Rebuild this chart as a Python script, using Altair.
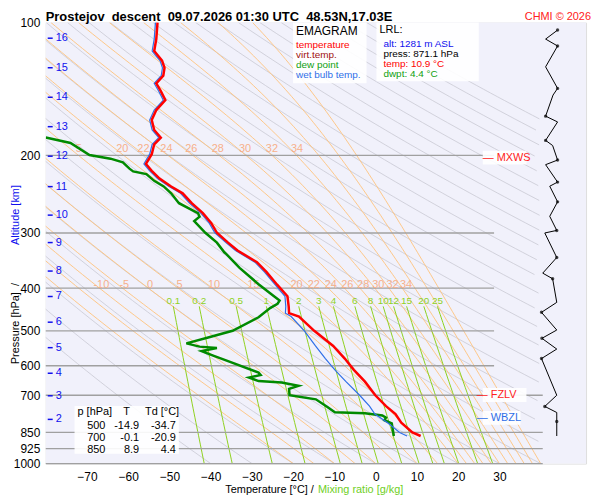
import altair as alt
import pandas as pd
import numpy as np

# ---------------- data ----------------
t_p = [100,109,116,122,126.6,131.9,137.4,143.1,149.9,157.9,166.3,175.2,182.3,188.8,198.8,209.2,216.9,225.9,
       235.3,243.9,256.8,270.4,284.7,299.7,315.5,328.8,349.3,367.6,393,417.5,440,456,464,500,541,578,613,652,700,741,772,808,850,866]
t_T = [-52.9,-53.2,-53.7,-51.8,-51.2,-51.5,-53.2,-52.1,-51.0,-53.2,-54.3,-53.7,-52.1,-53.7,-54.3,-55.7,-54.3,-52.4,
       -49.6,-46.8,-44.6,-41.9,-39.9,-38.5,-35.8,-33.5,-28.8,-26.5,-23.9,-21.4,-21.1,-21.0,-18.6,-14.9,-10.3,-7.5,-5.3,-2.6,-0.1,2.5,4.8,6.2,8.9,10.9]
wb_T = [-53.4,-53.7,-54.2,-52.3,-51.7,-52.0,-53.7,-52.6,-51.5,-53.7,-54.8,-54.2,-52.6,-54.2,-54.8,-56.2,-54.8,-52.9,
        -50.1,-47.3,-45.1,-42.4,-40.4,-39.0,-36.3,-34.0,-29.3,-27.0,-24.4,-22.0,-21.8,-21.9,-20.5,-17.3,-14.6,-12.2,-9.9,-7.2,-3.9,-1.5,-0.2,2.9,5.8,7.6]
td_p = [182.3,187.5,199.6,203.5,207.5,214.4,217.5,220.6,228.5,235.3,243.9,256.8,270.4,275.5,282,299.7,315.5,331.8,
        335,360,392,411,427,434,444,466,500,517,534,543,547,556,569,586,622,630,638,650,655,666,677,700,715,743,765,
        769,778,787,797,811,866]
td_T = [-80,-74,-69.4,-64.3,-61.3,-59.7,-58.8,-55.6,-53.7,-51.4,-49.6,-47.7,-43.1,-42.7,-44,-41.3,-38.5,-36.7,
        -36.2,-33,-28.4,-25.6,-23.3,-23.8,-25.6,-28.4,-34.7,-40.4,-45.9,-42.7,-38.5,-42.2,-39.4,-35.8,-28.4,-27.9,-30.7,
        -28.4,-22.8,-18.7,-21,-20.9,-14.5,-11.8,-9.9,-2.6,1.6,2.5,2.1,3.9,4.4]
km_lab = ["16","15","14","13","12","11","10","9","8","7","6","5","4","3","2"]
km_p = [108.5,126.6,147.7,172.2,200.9,235.5,273.3,315.4,366,418,478,546,624,702,794]
wind_p = [104,109,113,126,141,146,163,168,185,190,205,210,230,235,255,275,296,300,341,370,381,431,454,498,520,550,578,700,742,766,803,866]
wind_x = [44.1,41.2,44.1,41.2,44.1,43.0,41.2,44.1,41.2,42.9,44.1,41.2,44.1,42.2,44.1,42.2,43.9,41.0,43.9,40.5,42.9,43.9,40.2,43.9,40.3,43.9,40.2,43.9,41.0,43.9,43.9,43.9]
mix_w = [0.1,0.2,0.5,1,2,3,4,6,8,10,12,15,20,25]
mix_lab = ["0.1","0.2","0.5","1","2","3","4","6","8","10","12","15","20","25"]
thw_400 = [-10,-5,0,5,10,15,20,22,24,26,28,30,32,34]
thw_200 = [5,20,22,24,26,28,30,32,34]
table_rows = [["500","-14.9","-34.7"],["700","-0.1","-20.9"],["850","8.9","4.4"]]

# ---------------- thermodynamic reference curves ----------------
def es(T):
    return 6.112*np.exp(17.67*T/(T+243.5))
def td_from_w(w, p):
    e = w*p/(622.0+w)
    l = np.log(e/6.112)
    return 243.5*l/(17.67-l)
pgrid = np.exp(np.linspace(np.log(1000), np.log(100), 120))

rows = []
for th in range(-40, 260, 10):
    thK = th+273.15
    for i, p in enumerate(pgrid):
        T = thK*(p/1000)**0.2857-273.15
        if -82 <= T <= 40:
            rows.append(dict(k=th, i=i, p=p, T=T))
dry = pd.DataFrame(rows)

def moist(thw):
    T = thw+273.15; out = []
    for i in range(len(pgrid)):
        p = pgrid[i]
        out.append((p, T-273.15))
        if i+1 < len(pgrid):
            dp = pgrid[i+1]-p
            for _ in range(4):
                h = dp/4
                rs = 0.622*es(T-273.15)/(p-es(T-273.15))
                dTdp = (287*T+2.5e6*rs)/(p*(1004+2.5e6**2*rs*0.622/(287*T*T)))
                T += dTdp*h; p += h
    return out
mrows = []; mcur = {}
for thw in list(range(-20, 21, 5))+list(range(22, 42, 2)):
    c = moist(thw); mcur[thw] = c
    for i, (p, T) in enumerate(c):
        if -82 <= T <= 40:
            mrows.append(dict(k=thw, i=i, p=p, T=T))
mst = pd.DataFrame(mrows)
def moist_at(thw, pp):
    c = mcur.get(thw) or moist(thw)
    ps = np.array([a for a, b in c]); ts = np.array([b for a, b in c])
    return float(np.interp(np.log(pp), np.log(ps[::-1]), ts[::-1]))

wrows = []
for w in mix_w:
    for i, p in enumerate(np.linspace(1000, 440, 30)):
        wrows.append(dict(k=w, i=i, p=p, T=td_from_w(w, p)))
mix = pd.DataFrame(wrows)
mixlab = pd.DataFrame(dict(t=mix_lab, p=[428]*len(mix_w), T=[td_from_w(w, 440) for w in mix_w]))
lab400 = pd.DataFrame(dict(t=[str(v) for v in thw_400], p=393, T=[moist_at(v, 393)+1.5 for v in thw_400]))
lab200 = pd.DataFrame(dict(t=[str(v) for v in thw_200], p=194, T=[max(moist_at(v, 194)+1.5, -72) for v in thw_200]))

X = alt.X("T:Q", scale=alt.Scale(domain=[-80, 51], nice=False, zero=False),
          axis=alt.Axis(values=list(range(-70, 31, 10)), grid=False, domain=False, ticks=False,
                        labelFontSize=12, labelColor="black", title=None, labelPadding=8))
Y = alt.Y("p:Q", scale=alt.Scale(type="log", domain=[100, 1000], reverse=True, nice=False),
          axis=alt.Axis(values=[100,200,300,400,500,600,700,850,925,1000], format="d", grid=False, domain=False,
                        ticks=False, labelFontSize=12, labelColor="black", title=None, labelPadding=6))

W, H = 544, 444
ox, oy = 46, 21
bg = alt.Chart(pd.DataFrame({"a": [0]})).mark_rect(color="#f1f1fb").encode(
    x=alt.value(0), x2=alt.value(W), y=alt.value(0), y2=alt.value(H))
iso = alt.Chart(pd.DataFrame({"T": list(range(-70, 41, 10))})).mark_rule(color="#d4d4dc", strokeWidth=1).encode(x=X)
iso0 = alt.Chart(pd.DataFrame({"T": [0]})).mark_rule(color="#909090", strokeWidth=1).encode(x="T:Q")
dryl = alt.Chart(dry).mark_line(color="#c9c9d3", strokeWidth=0.8, clip=True).encode(x="T:Q", y="p:Q", detail="k:N", order="i:Q")
mstl = alt.Chart(mst).mark_line(color="#ffc27a", strokeWidth=0.9, clip=True).encode(x="T:Q", y="p:Q", detail="k:N", order="i:Q")
mixl = alt.Chart(mix).mark_line(color="#8fd11f", strokeWidth=1, clip=True).encode(x="T:Q", y="p:Q", detail="k:N", order="i:Q")
isob = alt.Chart(pd.DataFrame(dict(p=[200,300,400,500,600,700,850,925,1000],
                                   T=[-80]*9, T2=[28.7,28.7,28.7,28.7,28.7,40.5,40.5,40.5,40.5]))
                 ).mark_rule(color="#a0a0a0", strokeWidth=1.3).encode(x="T:Q", x2="T2:Q", y="p:Q")
mixt = alt.Chart(mixlab).mark_text(color="#8fd11f", fontSize=10).encode(x="T:Q", y="p:Q", text="t:N")
l4 = alt.Chart(lab400).mark_text(color="#f7b08a", fontSize=11).encode(x="T:Q", y="p:Q", text="t:N")
l2 = alt.Chart(lab200).mark_text(color="#f7b08a", fontSize=11).encode(x="T:Q", y="p:Q", text="t:N")

dfT = pd.DataFrame(dict(p=t_p, T=t_T, i=range(len(t_p))))
dfD = pd.DataFrame(dict(p=td_p, T=td_T, i=range(len(td_p))))
dfW = pd.DataFrame(dict(p=t_p, T=wb_T, i=range(len(t_p))))
lT = alt.Chart(dfT).mark_line(color="#ff0000", strokeWidth=2.5).encode(x="T:Q", y="p:Q", order="i:Q")
lD = alt.Chart(dfD).mark_line(color="#008a00", strokeWidth=2.5, clip=True).encode(x="T:Q", y="p:Q", order="i:Q")
lW = alt.Chart(dfW).mark_line(color="#2f6fe8", strokeWidth=1.2).encode(x="T:Q", y="p:Q", order="i:Q")

dfWind = pd.DataFrame(dict(p=wind_p, T=wind_x, i=range(len(wind_p))))
wl = alt.Chart(dfWind).mark_line(color="black", strokeWidth=1).encode(x="T:Q", y="p:Q", order="i:Q")
wp = alt.Chart(dfWind.iloc[::2]).mark_point(color="black", filled=True, size=12).encode(x="T:Q", y="p:Q")

dfK = pd.DataFrame(dict(t=km_lab, p=km_p))
kt = alt.Chart(dfK).mark_rule(color="#1010ee", strokeWidth=1.5).encode(x=alt.value(2), x2=alt.value(7), y="p:Q")
kl = alt.Chart(dfK).mark_text(color="#1010ee", fontSize=11, align="left").encode(x=alt.value(10), y="p:Q", text="t:N")

def txt(s, x, y, color="black", size=11, align="left", weight="normal", angle=0):
    return alt.Chart(pd.DataFrame({"t": [s]})).mark_text(color=color, fontSize=size, align=align,
                fontWeight=weight, angle=angle, baseline="middle").encode(x=alt.value(x), y=alt.value(y), text="t:N")
def box(x1, y1, x2, y2):
    return alt.Chart(pd.DataFrame({"a": [0]})).mark_rect(color="white", opacity=0.9).encode(
        x=alt.value(x1), x2=alt.value(x2), y=alt.value(y1), y2=alt.value(y2))

S = "\u00a0\u00a0"
ann = [
    box(295-ox, 21-oy, 369-ox, 82-oy), box(379-ox, 21-oy, 482-ox, 80-oy), box(75-ox, 407-oy, 180-ox, 455-oy),
    box(486-ox, 150-oy, 530-ox, 164-oy), box(486-ox, 389-oy, 530-ox, 403-oy), box(486-ox, 412-oy, 524-ox, 426-oy),
    txt("EMAGRAM", 298-ox, 30-oy, size=12),
    txt("temperature", 298-ox, 44-oy, "#ff0000", 10), txt("virt.temp.", 298-ox, 54-oy, "#a01010", 10),
    txt("dew point", 298-ox, 64-oy, "#10a010", 10), txt("wet bulb temp.", 298-ox, 74-oy, "#2f6fe8", 10),
    txt("LRL:", 382-ox, 28-oy, size=11),
    txt("alt: 1281 m ASL", 386-ox, 43-oy, "#1010ee", 10), txt("press: 871.1 hPa", 386-ox, 53-oy, "black", 10),
    txt("temp: 10.9 °C", 386-ox, 63-oy, "#ff0000", 10), txt("dwpt: 4.4 °C", 386-ox, 73-oy, "#10a010", 10),
    txt("p [hPa]", 78-ox, 413-oy), txt("T", 124-ox, 413-oy), txt("Td [°C]", 146-ox, 413-oy),
    txt("— MXWS", 486-ox, 157-oy, "#ff2020", 11), txt("— FZLV", 480-ox, 396-oy, "#ff2020", 11),
    txt("— WBZL", 480-ox, 419-oy, "#2f6fe8", 11),
    txt("Prostejov" + S + "descent" + S + "09.07.2026 01:30 UTC" + S + "48.53N,17.03E", 46-ox, 15-oy, size=13, weight="bold"),
    txt("CHMI © 2026", 595-ox, 15-oy, "#ff2020", 11, align="right"),
    txt("Temperature [°C]  /", 316-ox, 492-oy, size=11, align="right"),
    txt("Mixing ratio [g/kg]", 320-ox, 492-oy, "#6fcf1f", 11),
    txt("Pressure [hPa]\u00a0\u00a0/", 16-ox, 365-oy, size=11, angle=270, align="left"),
    txt("Altitude [km]", 16-ox, 245-oy, "#1010ee", 11, angle=270, align="left"),
]
for j, r in enumerate(table_rows):
    y = 427 + j*12 - oy
    ann += [txt(r[0], 106-ox, y, align="right"), txt(r[1], 140-ox, y, align="right"), txt(r[2], 177-ox, y, align="right")]

chart = alt.layer(bg, iso, dryl, mstl, mixl, iso0, isob, mixt, l4, l2, lD, lW, lT, wl, wp, kt, kl, *ann
    ).encode(x=X, y=Y).properties(width=W, height=H, autosize="none",
    padding={"left": 38, "top": 13, "right": 6, "bottom": 34}
    ).configure_view(stroke=None).configure(font="Liberation Sans", background="white")
chart.save("out.html", embed_options={"renderer": "svg", "actions": False})
